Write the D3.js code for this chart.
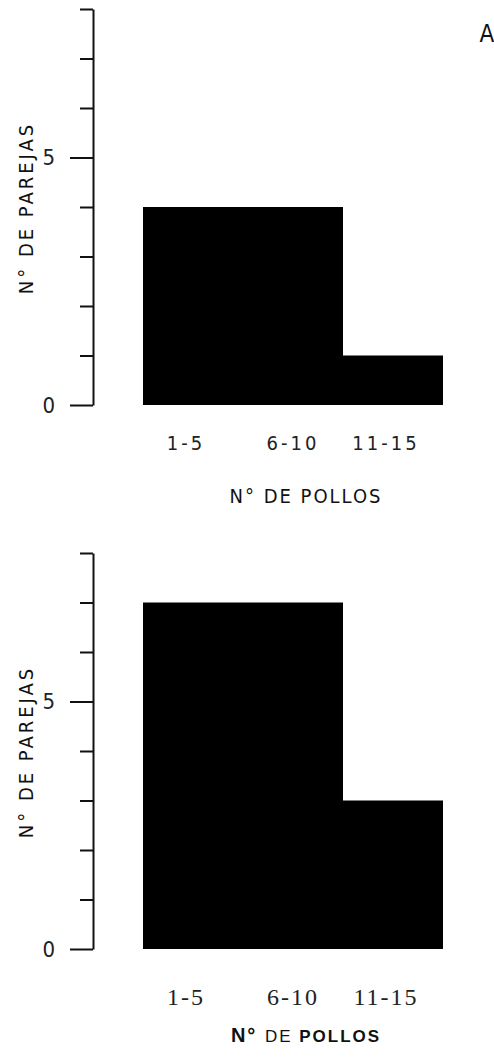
<!DOCTYPE html>
<html>
<head>
<meta charset="utf-8">
<script src="https://cdn.jsdelivr.net/npm/d3@7"></script>
<style>
  html, body { margin: 0; padding: 0; background: #fff; }
  svg { display: block; }
</style>
</head>
<body>
<svg id="chart" width="494" height="1060"></svg>
<script>
// Number of breeding pairs by brood size class
const categories = ["1-5", "6-10", "11-15"];
const pairsA = [4, 4, 1];
const pairsB = [7, 7, 3];
const yTicks = [0, 1, 2, 3, 4, 5, 6, 7, 8];
const yLabelTicks = [0, 5];

const svg = d3.select("#chart");
const narrow = "'Liberation Sans Narrow', 'DejaVu Sans Condensed', 'Liberation Sans', sans-serif";

function panel(offsetY, values, style) {
  const g = svg.append("g").attr("transform", `translate(0,${offsetY})`);

  const y = d3.scaleLinear().domain([0, 8]).range([405, 9]);
  const x = d3.scaleBand().domain(categories).range([143, 443]).padding(0);

  // bars
  g.selectAll("rect.bar")
    .data(values)
    .join("rect")
    .attr("class", "bar")
    .attr("x", (d, i) => x(categories[i]))
    .attr("width", x.bandwidth())
    .attr("y", d => y(d))
    .attr("height", d => y(0) - y(d))
    .attr("fill", "#000");

  // y axis
  const yAxis = d3.axisLeft(y)
    .tickValues(yTicks)
    .tickSize(13)
    .tickSizeOuter(0)
    .tickFormat(d => yLabelTicks.includes(d) ? d : "");

  const ag = g.append("g").attr("transform", "translate(93,0)").call(yAxis);
  ag.select(".domain").attr("stroke", "#111").attr("stroke-width", 2);
  ag.selectAll(".tick line")
    .attr("stroke", "#111")
    .attr("stroke-width", 2)
    .attr("x2", d => yLabelTicks.includes(d) ? -23 : -13);
  ag.selectAll(".tick text")
    .attr("x", -38)
    .attr("fill", "#222")
    .style("font-family", narrow)
    .style("font-size", "22px")
    .style("font-stretch", "condensed");

  // category labels
  g.selectAll("text.cat")
    .data(categories)
    .join("text")
    .attr("class", "cat")
    .attr("x", d => x(d) + x.bandwidth() / 2 - (d === "6-10" ? 0 : 7))
    .attr("y", style.catY)
    .attr("text-anchor", "middle")
    .attr("fill", "#222")
    .style("font-family", style.catFont)
    .style("font-size", style.catSize)
    .style("font-stretch", "condensed")
    .style("letter-spacing", style.catSpacing)
    .text(d => d);

  // x title
  const xt = g.append("text")
    .attr("x", 306)
    .attr("y", style.titleY)
    .attr("text-anchor", "middle")
    .attr("fill", "#111")
    .style("font-family", style.titleFont)
    .style("font-size", style.titleSize)
    .style("letter-spacing", "2px");
  style.titleParts.forEach(p => {
    xt.append("tspan")
      .attr("font-weight", p.bold ? "bold" : "normal")
      .style("font-size", p.size || null)
      .text(p.t);
  });

  // y title
  g.append("text")
    .attr("transform", "translate(33,208) rotate(-90)")
    .attr("text-anchor", "middle")
    .attr("fill", "#111")
    .style("font-family", narrow)
    .style("font-stretch", "condensed")
    .style("font-size", "20px")
    .style("letter-spacing", "3px")
    .text("N° DE PAREJAS");

  return g;
}

panel(0, pairsA, {
  catFont: narrow,
  catSize: "20px",
  catSpacing: "3px",
  catY: 450,
  titleFont: narrow,
  titleSize: "20px",
  titleY: 503,
  titleParts: [{ t: "N°  " }, { t: "DE  " }, { t: "POLLOS" }]
});

panel(544, pairsB, {
  catFont: "'Liberation Serif', 'DejaVu Serif', serif",
  catSize: "24px",
  catSpacing: "2px",
  catY: 461,
  titleFont: "'Liberation Sans', 'DejaVu Sans', sans-serif",
  titleSize: "17px",
  titleY: 498,
  titleParts: [{ t: "N°  ", bold: true, size: "20px" }, { t: "DE  ", size: "17px" }, { t: "POLLOS", bold: true }]
});

// panel letter
svg.append("text")
  .attr("x", 487)
  .attr("y", 42)
  .attr("text-anchor", "middle")
  .attr("fill", "#111")
  .style("font-family", narrow)
  .style("font-size", "24px")
  .text("A");
</script>
</body>
</html>
